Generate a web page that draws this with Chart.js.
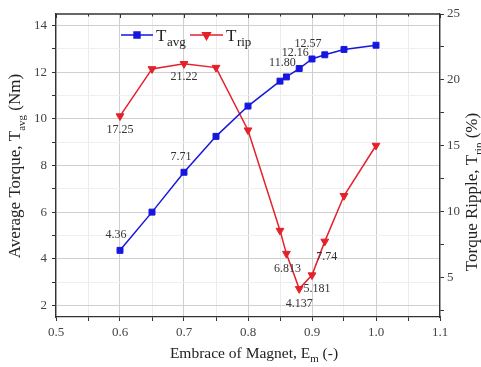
<!DOCTYPE html>
<html><head><meta charset="utf-8">
<script src="https://cdn.jsdelivr.net/npm/chart.js@4/dist/chart.umd.min.js"></script>
<style>html,body{margin:0;padding:0;background:#fff}#wrap{width:481px;height:367px;position:relative}</style>
</head><body><div id="wrap"><canvas id="c"></canvas></div>
<script>
// ---- data ----
const embrace = [0.60, 0.65, 0.70, 0.75, 0.80, 0.85, 0.86, 0.88, 0.90, 0.92, 0.95, 1.00];
const torqueAvg = [4.36, 6.00, 7.71, 9.25, 10.55, 11.62, 11.80, 12.16, 12.57, 12.75, 12.98, 13.16];
const torqueRipple = [17.25, 20.83, 21.22, 20.93, 16.18, 8.56, 6.813, 4.137, 5.181, 7.74, 11.2, 15.02];
const avgLabelIdx = [0, 2, 6, 7, 8];
const avgLabelText = ['4.36', '7.71', '11.80', '12.16', '12.57'];
const ripLabelIdx = [0, 2, 6, 7, 8, 9];
const ripLabelText = ['17.25', '21.22', '6.813', '4.137', '5.181', '7.74'];
const xTicks = [0.5, 0.55, 0.6, 0.65, 0.7, 0.75, 0.8, 0.85, 0.9, 0.95, 1.0, 1.05, 1.1];
const xTickLabels = ['0.5', '', '0.6', '', '0.7', '', '0.8', '', '0.9', '', '1.0', '', '1.1'];
const leftTicks = [2, 3, 4, 5, 6, 7, 8, 9, 10, 11, 12, 13, 14];
const leftTickLabels = ['2', '', '4', '', '6', '', '8', '', '10', '', '12', '', '14'];
const rightTicks = [2.5, 5, 7.5, 10, 12.5, 15, 17.5, 20, 22.5, 25];
const rightTickLabels = ['', '5', '', '10', '', '15', '', '20', '', '25'];

// ---- styles ----
const BLUE = '#1616e0', RED = '#e4212b';
const SERIF = '"Liberation Serif", "Times New Roman", serif';
const avgLabelOff = [[-4, -15], [-3, -15], [-4, -14], [-4, -16], [-4, -15]];
const ripLabelOff = [[0, 14], [0, 13], [1, 15], [0, 15], [5, 14], [2, 15]];

function drawRich(ctx, parts, x, y, rot, big, small) {
  ctx.save();
  ctx.translate(x, y); ctx.rotate(rot);
  ctx.fillStyle = '#222'; ctx.textBaseline = 'alphabetic'; ctx.textAlign = 'left';
  const fb = big + 'px ' + SERIF, fs = small + 'px ' + SERIF;
  let w = 0;
  parts.forEach(p => { ctx.font = p.sub ? fs : fb; w += ctx.measureText(p.t).width; });
  let cx = -w / 2;
  parts.forEach(p => {
    ctx.font = p.sub ? fs : fb;
    ctx.fillText(p.t, cx, p.sub ? big * 0.28 : 0);
    cx += ctx.measureText(p.t).width;
  });
  ctx.restore();
}

const decor = {
  id: 'decor',
  afterDraw(chart) {
    const ctx = chart.ctx, a = chart.chartArea, xs = chart.scales.x;
    ctx.save();
    ctx.strokeStyle = '#333'; ctx.lineWidth = 1.3;
    ctx.beginPath(); ctx.moveTo(a.left, a.top); ctx.lineTo(a.right, a.top); ctx.stroke();
    ctx.lineWidth = 1;
    xTicks.forEach((v, i) => {
      const px = Math.round(xs.getPixelForValue(v)) + 0.5;
      const len = xTickLabels[i] ? 4 : 2.5;
      ctx.beginPath(); ctx.moveTo(px, a.top); ctx.lineTo(px, a.top + len); ctx.stroke();
    });
    ctx.font = '12px ' + SERIF; ctx.fillStyle = '#333';
    ctx.textAlign = 'center'; ctx.textBaseline = 'middle';
    const m0 = chart.getDatasetMeta(0).data, m1 = chart.getDatasetMeta(1).data;
    avgLabelIdx.forEach((idx, k) => {
      const p = m0[idx]; ctx.fillText(avgLabelText[k], p.x + avgLabelOff[k][0], p.y + avgLabelOff[k][1]);
    });
    ripLabelIdx.forEach((idx, k) => {
      const p = m1[idx]; ctx.fillText(ripLabelText[k], p.x + ripLabelOff[k][0], p.y + ripLabelOff[k][1]);
    });
    const items = [
      { ds: chart.data.datasets[0], x0: 121, x1: 153, tx: 156, sub: 'avg' },
      { ds: chart.data.datasets[1], x0: 190, x1: 223, tx: 226, sub: 'rip' }
    ];
    items.forEach(it => {
      const y = 35;
      ctx.strokeStyle = it.ds.borderColor; ctx.lineWidth = 1.5;
      ctx.beginPath(); ctx.moveTo(it.x0, y); ctx.lineTo(it.x1, y); ctx.stroke();
      ctx.fillStyle = it.ds.backgroundColor; ctx.strokeStyle = it.ds.borderColor;
      Chart.helpers.drawPoint(ctx, { pointStyle: it.ds.pointStyle, radius: it.ds.pointRadius, rotation: it.ds.pointRotation || 0, borderWidth: 1 }, (it.x0 + it.x1) / 2, y);
      ctx.fillStyle = '#222'; ctx.textAlign = 'left'; ctx.textBaseline = 'alphabetic';
      ctx.font = '17px ' + SERIF; ctx.fillText('T', it.tx, 41);
      const tw = ctx.measureText('T').width;
      ctx.font = '13px ' + SERIF; ctx.fillText(it.sub, it.tx + tw + 0.5, 46);
    });
    ctx.restore();
    drawRich(ctx, [{ t: 'Average Torque, T' }, { t: 'avg', sub: 1 }, { t: ' (Nm)' }], 20, 166, -Math.PI / 2, 17, 11);
    drawRich(ctx, [{ t: 'Torque Ripple, T' }, { t: 'rip', sub: 1 }, { t: ' (%)' }], 477, 192, -Math.PI / 2, 17, 11);
    drawRich(ctx, [{ t: 'Embrace of Magnet, E' }, { t: 'm', sub: 1 }, { t: ' (-)' }], 254, 358, 0, 15.5, 11);
  }
};

const tickFont = { family: SERIF, size: 13 };
new Chart(document.getElementById('c'), {
  type: 'line',
  data: {
    datasets: [
      {
        label: 'Tavg', yAxisID: 'y',
        data: embrace.map((x, i) => ({ x, y: torqueAvg[i] })),
        borderColor: BLUE, backgroundColor: BLUE, borderWidth: 1.5,
        pointStyle: 'rect', pointRadius: 4.2, pointBorderWidth: 1, tension: 0
      },
      {
        label: 'Trip', yAxisID: 'y1',
        data: embrace.map((x, i) => ({ x, y: torqueRipple[i] })),
        borderColor: RED, backgroundColor: RED, borderWidth: 1.5,
        pointStyle: 'triangle', pointRotation: 180, pointRadius: 4.5, pointBorderWidth: 1, tension: 0
      }
    ]
  },
  options: {
    responsive: true, maintainAspectRatio: false, animation: false, devicePixelRatio: 1,
    layout: { padding: { top: 14, left: 0, right: 0, bottom: 0 } },
    plugins: { legend: { display: false }, tooltip: { enabled: false } },
    scales: {
      x: {
        type: 'linear', min: 0.5, max: 1.1,
        afterBuildTicks: s => { s.ticks = xTicks.map(v => ({ value: v })); },
        afterFit: s => { s.height = 50; },
        ticks: { autoSkip: false, maxRotation: 0, font: tickFont, color: '#444', padding: 4,
          callback: (v, i) => xTickLabels[i] },
        grid: { color: c => (xTickLabels[c.index] ? '#cfcfcf' : '#ececec'), tickColor: '#333', tickLength: 4, lineWidth: 1 },
        border: { color: '#333', width: 1.3 }
      },
      y: {
        type: 'linear', position: 'left', min: 1.5, max: 14.5,
        afterBuildTicks: s => { s.ticks = leftTicks.map(v => ({ value: v })); },
        afterFit: s => { s.width = 56; },
        ticks: { autoSkip: false, font: tickFont, color: '#444', padding: 5,
          callback: (v, i) => leftTickLabels[i] },
        grid: { color: c => (leftTickLabels[c.index] ? '#cfcfcf' : '#efefef'), tickColor: '#333', tickLength: 4 },
        border: { color: '#333', width: 1.3 }
      },
      y1: {
        type: 'linear', position: 'right', min: 2, max: 25,
        afterBuildTicks: s => { s.ticks = rightTicks.map(v => ({ value: v })); },
        afterFit: s => { s.width = 41; },
        ticks: { autoSkip: false, font: tickFont, color: '#444', padding: 3,
          callback: (v, i) => rightTickLabels[i] },
        grid: { drawOnChartArea: false, tickColor: '#333', tickLength: 4 },
        border: { color: '#333', width: 1.3 }
      }
    }
  },
  plugins: [decor]
});
</script>
</body></html>
